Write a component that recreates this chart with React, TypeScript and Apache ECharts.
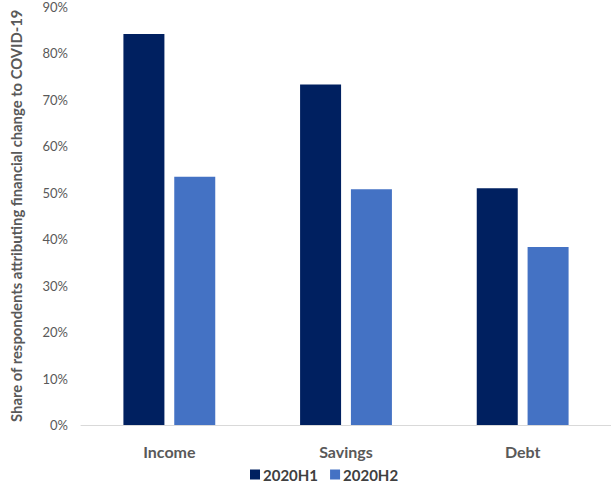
import React, { useEffect, useRef } from "react";
import * as echarts from "echarts";

const categories = ["Income", "Savings", "Debt"];
const seriesNames = ["2020H1", "2020H2"];
const h1Values = [84.1, 73.2, 50.9];
const h2Values = [53.4, 50.7, 38.3];
const yTicks = [0, 10, 20, 30, 40, 50, 60, 70, 80, 90];
const yTitle = "Share of respondents attributing financial change to COVID-19";

export default function App() {
  const ref = useRef<HTMLDivElement>(null);
  useEffect(() => {
    if (!ref.current) return;
    const chart = echarts.init(ref.current, undefined, { renderer: "svg" });
    const font = "Lato";
    chart.setOption({
      animation: false,
      backgroundColor: "#ffffff",
      textStyle: { fontFamily: font },
      grid: { left: 77, top: 5, width: 539, height: 420, containLabel: false },
      legend: {
        data: seriesNames,
        top: 462,
        left: 245,
        itemWidth: 10,
        itemHeight: 10,
        itemGap: 12,
        icon: "rect",
        textStyle: { fontFamily: font, fontSize: 15, fontWeight: "bold", color: "#404040", padding: [0, 0, 0, -2] },
      },
      xAxis: {
        type: "category",
        data: categories,
        axisLine: { show: true, lineStyle: { color: "#d9d9d9", width: 1 } },
        axisTick: { show: false },
        axisLabel: { fontFamily: font, fontSize: 16, fontWeight: "bold", color: "#595959", margin: 18 },
      },
      yAxis: {
        type: "value",
        min: yTicks[0],
        max: yTicks[yTicks.length - 1],
        interval: 10,
        name: yTitle,
        nameLocation: "middle",
        nameRotate: 90,
        nameGap: 58,
        nameTextStyle: { fontFamily: font, fontSize: 14.8, fontWeight: "bold", color: "#595959" },
        axisLine: { show: false },
        axisTick: { show: false },
        splitLine: { show: false },
        axisLabel: { fontFamily: font, fontSize: 13, color: "#595959", margin: 13, formatter: "{value}%" },
      },
      series: [
        {
          name: seriesNames[0],
          type: "bar",
          data: h1Values,
          barWidth: 41,
          barGap: "24%",
          itemStyle: { color: "#002060" },
        },
        {
          name: seriesNames[1],
          type: "bar",
          data: h2Values,
          barWidth: 41,
          itemStyle: { color: "#4472c4" },
        },
      ],
    });
    return () => chart.dispose();
  }, []);
  return (
    <div
      ref={ref}
      style={{ position: "fixed", left: 0, top: 0, width: 611, height: 486, background: "#fff" }}
    />
  );
}
